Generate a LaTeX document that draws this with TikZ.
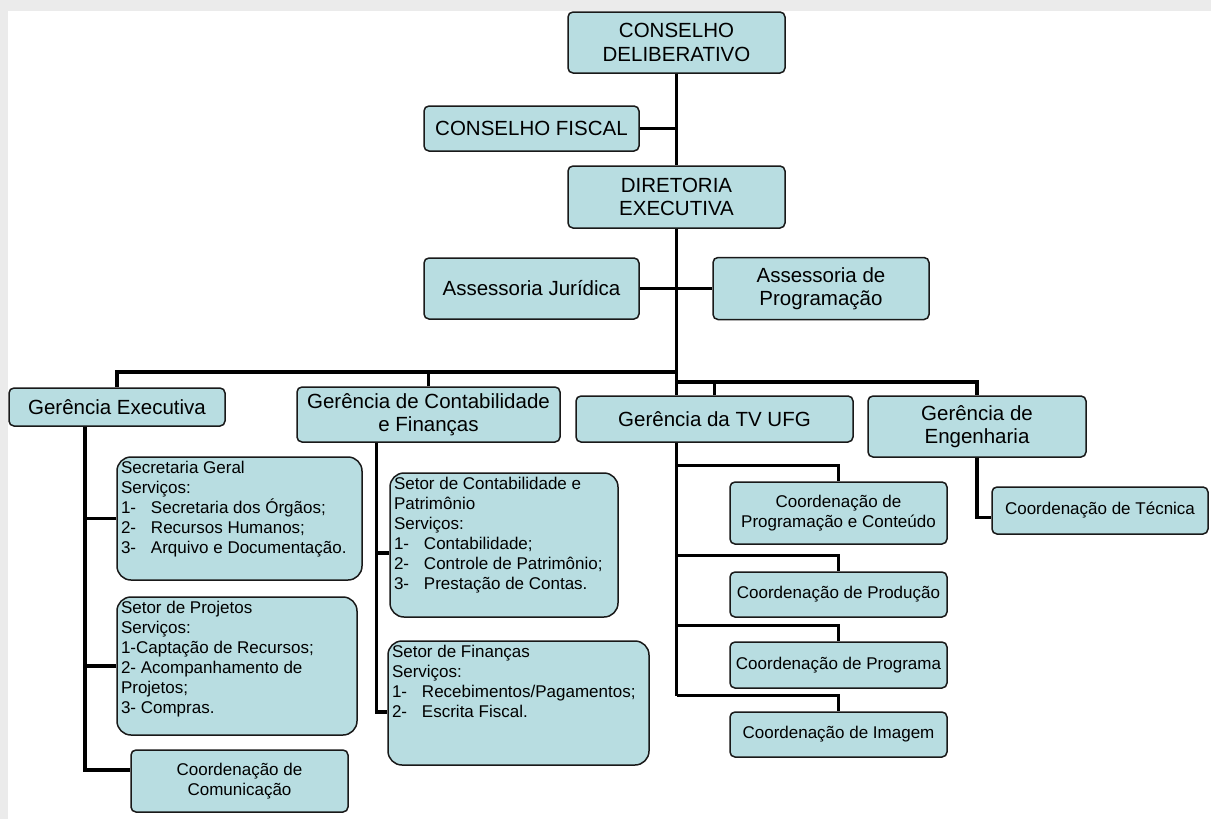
\documentclass[tikz,border=0pt]{standalone}
\usepackage{fontspec}
\setmainfont{Liberation Sans}
\usepackage{xcolor}

\definecolor{boxfill}{RGB}{184,221,225}
\tikzset{
  box/.style={draw=black!90, line width=1.5pt, fill=boxfill, rounded corners=5pt,
    align=center, inner sep=2pt, font=\fontsize{20.5}{23.5}\selectfont},
  coord/.style={box, font=\fontsize{17}{20}\selectfont},
  setor/.style={box, rounded corners=14pt, inner sep=4pt, font=\fontsize{17}{20}\selectfont},
  link/.style={line width=3.2pt, black}
}
\newcommand{\itm}[1]{\makebox[30pt][l]{#1}}

\begin{document}
\begin{tikzpicture}[x=1pt,y=-1pt]
  % page frame
  \useasboundingbox (0,0) rectangle (1211,819);
  \fill[black!8] (0,0) rectangle (1211,819);
  \fill[white] (8,11) rectangle (1211,819);

  % councils and board
  \node[box, minimum width=217pt, minimum height=61pt] (cd) at (676.5,42.5) {CONSELHO\\DELIBERATIVO};
  \node[box, minimum width=215pt, minimum height=45pt] (cf) at (531.5,128.5) {CONSELHO FISCAL};
  \node[box, minimum width=217pt, minimum height=62pt] (de) at (676.5,197) {DIRETORIA\\EXECUTIVA};
  \node[box, minimum width=215pt, minimum height=61pt] (aj) at (531.5,288.5) {Assessoria Jurídica};
  \node[box, minimum width=216pt, minimum height=62pt] (ap) at (821,288.5) {Assessoria de\\Programação};

  % managements
  \node[box, minimum width=216pt, minimum height=38pt] (ge) at (117,407) {Gerência Executiva};
  \node[box, minimum width=263pt, minimum height=55pt] (gc) at (428.5,414.5) {Gerência de Contabilidade\\e Finanças};
  \node[box, minimum width=277pt, minimum height=46pt] (gtv) at (714.5,419) {Gerência da TV UFG};
  \node[box, minimum width=218pt, minimum height=61pt] (gen) at (977,426.5) {Gerência de\\Engenharia};

  % Gerencia Executiva
  \node[setor, minimum width=245pt, minimum height=123pt] (sg) at (239.5,518.5)
    {\parbox[c][115pt][t]{237pt}{Secretaria Geral\\Serviços:\\\itm{1-}Secretaria dos Órgãos;\\\itm{2-}Recursos Humanos;\\\itm{3-}Arquivo e Documentação.}};
  \node[setor, minimum width=240pt, minimum height=138pt] (sp) at (237,666)
    {\parbox[c][130pt][t]{232pt}{Setor de Projetos\\Serviços:\\1-Captação de Recursos;\\2- Acompanhamento de\\Projetos;\\3- Compras.}};
  \node[coord, minimum width=217pt, minimum height=62pt] (cc) at (239.5,781) {Coordenação de\\Comunicação};

  % Gerencia de Contabilidade e Financas
  \node[setor, minimum width=228pt, minimum height=144pt] (scp) at (504,545)
    {\parbox[c][136pt][t]{220pt}{Setor de Contabilidade e\\Patrimônio\\Serviços:\\\itm{1-}Contabilidade;\\\itm{2-}Controle de Patrimônio;\\\itm{3-}Prestação de Contas.}};
  \node[setor, minimum width=261pt, minimum height=124pt] (sf) at (518.5,703)
    {\parbox[c][116pt][t]{253pt}{Setor de Finanças\\Serviços:\\\itm{1-}Recebimentos/Pagamentos;\\\itm{2-}Escrita Fiscal.}};

  % Gerencia da TV UFG
  \node[coord, minimum width=217pt, minimum height=62pt] (cpc) at (838.5,513) {Coordenação de\\Programação e Conteúdo};
  \node[coord, minimum width=217pt, minimum height=45pt] (cpr) at (838.5,594.5) {Coordenação de Produção};
  \node[coord, minimum width=217pt, minimum height=46pt] (cpg) at (838.5,665) {Coordenação de Programa};
  \node[coord, minimum width=217pt, minimum height=45pt] (cim) at (838.5,734.5) {Coordenação de Imagem};

  % Gerencia de Engenharia
  \node[coord, minimum width=216pt, minimum height=47pt] (tec) at (1100,510.5) {Coordenação de Técnica};

  % main trunk
  \coordinate (busL) at (676.5,372);
  \coordinate (busR) at (676.5,382);
  \draw[link] (cd.south) -- (de.north);
  \draw[link] (cf.east) -- (cf.east -| cd.south);
  \draw[link] (aj.east) -- (ap.west);
  \draw[link] (de.south) -- (gtv.north -| de.south);
  \draw[link] (busL) -| (ge.north);
  \draw[link] (gc.north) -- (gc.north |- busL);
  \draw[link] (busR) -| (gen.north);
  \draw[link] (gtv.north) -- (gtv.north |- busR);

  % branches
  \coordinate (getr) at ([xshift=-32pt]ge.south);
  \draw[link] (getr) |- ([yshift=11pt]cc.west);
  \draw[link] (getr |- sg.west) -- (sg.west);
  \draw[link] (getr |- sp.west) -- (sp.west);

  \coordinate (gctr) at ([xshift=-52pt]gc.south);
  \draw[link] (gctr) |- ([yshift=-9pt]sf.west);
  \draw[link] (gctr |- scp.west) ++(0,8) -- ([yshift=-8pt]scp.west);

  \draw[link] (gtv.south -| cd.south) -- ([yshift=15pt]cim.north -| cd.south);
  \foreach \c in {cpc,cpr,cpg,cim}
    \draw[link] ([yshift=16pt]\c.north -| cd.south) -| (\c.north);

  \draw[link] (gen.south) |- ([yshift=-7pt]tec.west);
\end{tikzpicture}
\end{document}
